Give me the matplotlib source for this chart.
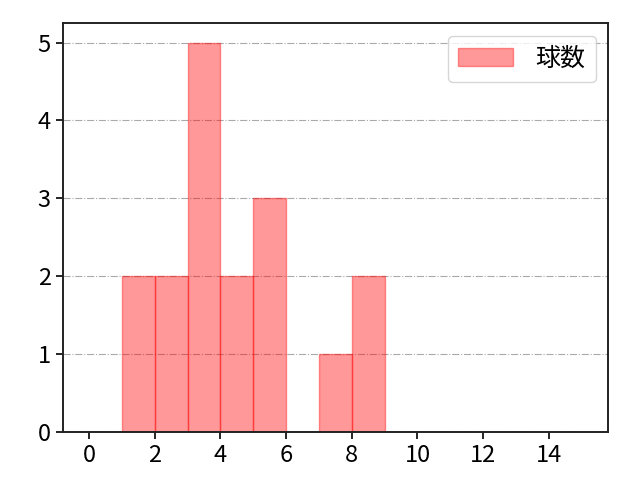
import numpy as np
import matplotlib
matplotlib.use("Agg")
import matplotlib.pyplot as plt

plt.rcParams['font.family'] = ['Noto Sans CJK JP', 'DejaVu Sans']
plt.rcParams['font.size'] = 18

# pitch counts per bin (bin edges 1..9)
bin_edges = [1, 2, 3, 4, 5, 6, 7, 8, 9]
counts = [2, 2, 5, 2, 3, 0, 1, 2]
label = "球数"

fig = plt.figure(figsize=(6.4, 4.8), dpi=100)
ax = fig.add_axes([0.098, 0.1, 0.852, 0.852])

ax.hist(bin_edges[:-1], bins=bin_edges, weights=counts,
        color='red', alpha=0.4, edgecolor='red', linewidth=1, label=label)

ax.set_xlim(-0.8, 15.8)
ax.set_ylim(0, 5.25)
ax.set_xticks(np.arange(0, 16, 2))
ax.set_yticks(np.arange(0, 6, 1))
ax.tick_params(labelsize=17, width=1.2, length=5)
ax.grid(axis='y', color='#aaaaaa', linestyle='dashdot', linewidth=0.8)
ax.set_axisbelow(True)
for s in ax.spines.values():
    s.set_linewidth(1.4)
    s.set_color('#222222')

ax.legend(loc='upper right', fontsize=18, handlelength=2.2, handletextpad=0.9)

fig.savefig("out.png", dpi=100)
